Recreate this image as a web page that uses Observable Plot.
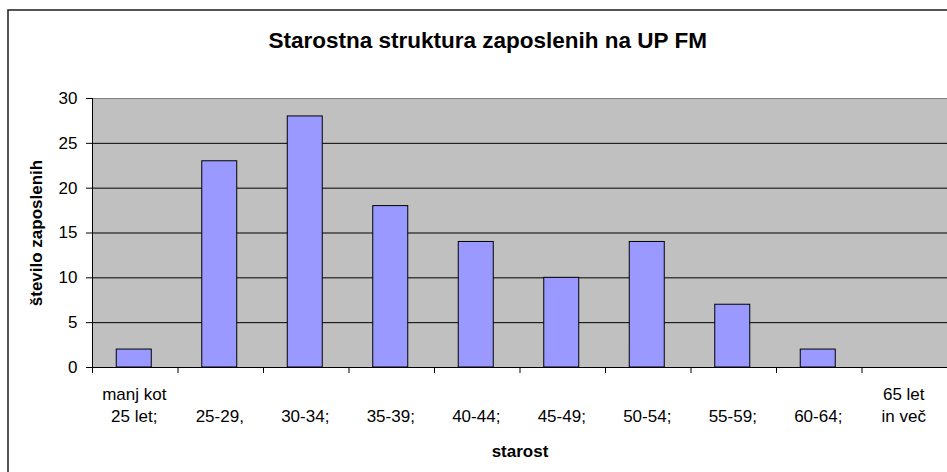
<!DOCTYPE html>
<html>
<head>
<meta charset="utf-8">
<script src="https://cdn.jsdelivr.net/npm/d3@7"></script>
<script src="https://cdn.jsdelivr.net/npm/@observablehq/plot@0.6"></script>
<style>
  html, body { margin: 0; padding: 0; overflow: hidden; background: white; }
  #chart svg { display: block; }
</style>
</head>
<body>
<div id="chart"></div>
<script>
const title = "Starostna struktura zaposlenih na UP FM";
const yLabel = "število zaposlenih";
const xLabel = "starost";
const categories = ["manj kot 25 let;", "25-29,", "30-34;", "35-39;", "40-44;", "45-49;", "50-54;", "55-59;", "60-64;", "65 let in več"];
const tickLabels = ["manj kot\n25 let;", "25-29,", "30-34;", "35-39;", "40-44;", "45-49;", "50-54;", "55-59;", "60-64;", "65 let\nin več"];
const values = [2, 23, 28, 18, 14, 10, 14, 7, 2, 0];
const yTicks = [0, 5, 10, 15, 20, 25, 30];

const rows = categories.map((c, i) => ({cat: c, value: values[i]}));

const W = 947, H = 472;
const mL = 92, mR = 0, mT = 98, mB = 105;
const step = (W - mL - mR) / categories.length;
const barW = 35;
const inset = (step - barW) / 2;
const font = "'Liberation Sans', Arial, sans-serif";

const chart = Plot.plot({
  width: W,
  height: H,
  marginLeft: mL,
  marginRight: mR,
  marginTop: mT,
  marginBottom: mB,
  style: {fontFamily: font, fontSize: "17px", color: "black", background: "white", overflow: "visible"},
  x: {type: "band", domain: categories, padding: 0, round: false, axis: null},
  y: {domain: [0, 30], axis: null},
  marks: [
    Plot.frame({fill: "#c0c0c0", stroke: null}),
    Plot.ruleY(yTicks.filter(v => v > 0 && v < 30), {stroke: "black"}),
    Plot.ruleY([30], {stroke: "#808080"}),
    Plot.barY(rows.filter(d => d.value > 0), {x: "cat", y: "value", fill: "#9999ff", stroke: "black", strokeWidth: 1, insetLeft: inset, insetRight: inset, dx: -1}),
    Plot.ruleY([0], {stroke: "black"}),
    Plot.ruleX([categories[0]], {dx: -step / 2, stroke: "black"}),
    Plot.axisY(yTicks, {anchor: "left", tickSize: 6, tickPadding: 9, fontSize: 17, label: null, stroke: "black"}),
    Plot.axisX({anchor: "bottom", tickSize: 6, dx: -step / 2, tickFormat: () => "", label: null, stroke: "black"}),
    Plot.text(categories, {x: d => d, text: (d, i) => tickLabels[i], frameAnchor: "bottom", lineAnchor: "bottom", dy: 54, dx: -1, fontSize: 17, lineHeight: 1.28, fill: "black"}),
    Plot.text([yLabel], {frameAnchor: "left", rotate: -90, dx: -56, fontSize: 17, fontWeight: "bold", textAnchor: "middle", lineAnchor: "middle", fill: "black"}),
    Plot.text([xLabel], {frameAnchor: "bottom", dy: 84, fontSize: 17, fontWeight: "bold", lineAnchor: "middle", fill: "black"}),
    Plot.text([title], {frameAnchor: "top-left", dx: 176, dy: -51, textAnchor: "start", lineAnchor: "bottom", fontSize: 22.5, fontWeight: "bold", fill: "black"})
  ]
});

d3.select(chart).insert("rect", ":first-child")
  .attr("x", 8).attr("y", 10).attr("width", 1200).attr("height", 1200)
  .attr("fill", "none").attr("stroke", "#2a2a2a").attr("stroke-width", 1.6);

document.getElementById("chart").appendChild(chart);
</script>
</body>
</html>
